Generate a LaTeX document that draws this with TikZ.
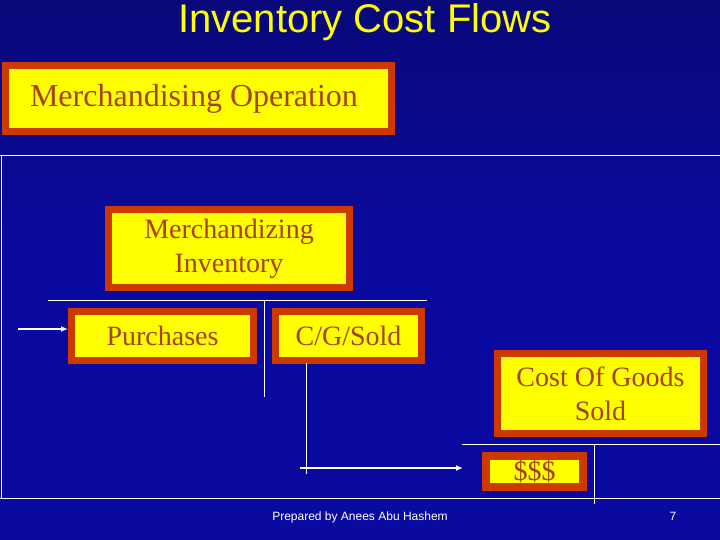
\documentclass[tikz,border=0pt]{standalone}
\usepackage{fontspec}
\setmainfont{Liberation Serif}
\newfontfamily\arial{Liberation Sans}
\usetikzlibrary{arrows.meta}
\definecolor{bgblue}{HTML}{0A0AA0}
\definecolor{bgdark}{HTML}{08087A}
\definecolor{brd}{HTML}{CC3A00}
\definecolor{txt}{HTML}{A8400A}
\definecolor{yel}{HTML}{FFFF00}
\tikzset{
  box/.style={draw=brd,line width=7pt,fill=yel,text=txt,align=center,inner sep=0pt,
    font=\fontsize{28}{34}\selectfont},
  wl/.style={draw=white,line width=1pt},
  wa/.style={draw=white,line width=2pt,-{Latex[length=7pt,width=6pt]}}
}
\begin{document}
\begin{tikzpicture}[x=1pt,y=-1pt]
\useasboundingbox (0,0) rectangle (720,540);
\shade[top color=bgdark,bottom color=bgblue,middle color=bgblue] (0,0) rectangle (720,540);
\node[text=yel,font=\arial\fontsize{40}{44}\selectfont] (title) at (365,22) {Inventory Cost Flows};
\node[box,minimum width=386pt,minimum height=66pt] (op) at (198.5,98.5) {};
\node[text=txt,font=\fontsize{32}{36}\selectfont,inner sep=0pt] (optext) at (194,99) {Merchandising Operation};
\draw[wl] (0,156) -- (720,156);
\draw[wl] (1,156) -- (1,498);
\draw[wl] (0,498) -- (720,498);
\node[box,minimum width=241pt,minimum height=78pt] (inv) at (229,248.5) {Merchandizing\\Inventory};
\node[box,minimum width=182pt,minimum height=49pt] (pur) at (162.5,336) {Purchases};
\node[box,minimum width=146pt,minimum height=49pt] (cgs) at (348.5,336) {C/G/Sold};
\node[box,minimum width=206pt,minimum height=80pt] (cogs) at (600.5,393.5) {Cost Of Goods\\Sold};
\node[box,line width=8pt,minimum width=97pt,minimum height=31pt] (dol) at (534.5,471.5) {\$\$\$};
\coordinate (a0) at (18,329);
\draw[wa] (a0) -- (a0 -| pur.west);
\coordinate (t1l) at (48,300); \coordinate (t1r) at (427,300);
\coordinate (t1t) at (264,300); \coordinate (t1b) at (264,397);
\draw[wl] (t1l) -- (t1r); \draw[wl] (t1t) -- (t1b);
\coordinate (c1) at (306,363); \coordinate (c2) at (306,474);
\draw[wl] (c1) -- (c2);
\coordinate (h1) at (300,468); \coordinate (h2) at (463,468);
\draw[wa] (h1) -- (h2);
\coordinate (t2l) at (462,444); \coordinate (t2r) at (720,444);
\coordinate (t2t) at (594,444); \coordinate (t2b) at (594,504);
\draw[wl] (t2l) -- (t2r); \draw[wl] (t2t) -- (t2b);
\node[text=white,font=\arial\fontsize{12}{14}\selectfont] (foot) at (360,517) {Prepared by Anees Abu Hashem};
\node[text=white,font=\arial\fontsize{12}{14}\selectfont] (pg) at (673,516) {7};
\end{tikzpicture}
\end{document}
